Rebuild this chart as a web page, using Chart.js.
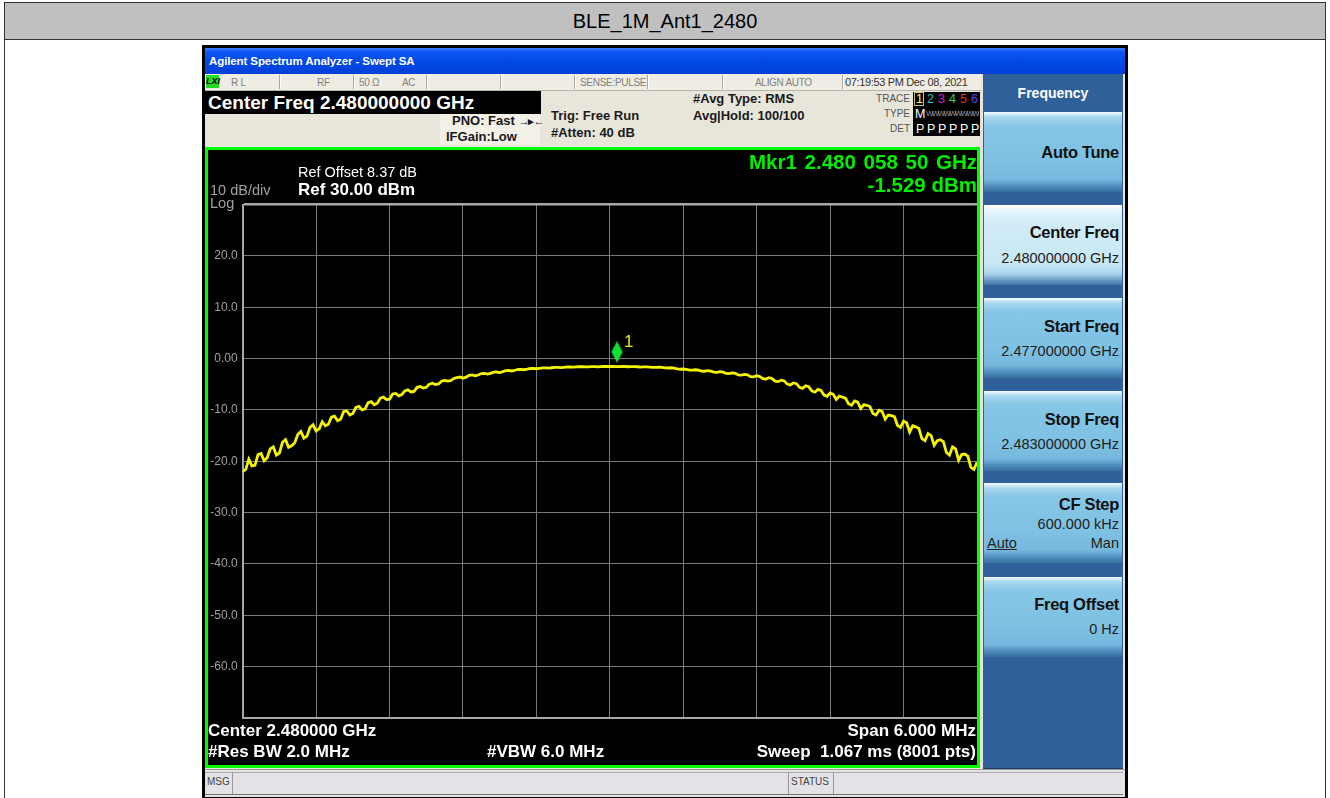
<!DOCTYPE html>
<html><head><meta charset="utf-8">
<script src="https://cdn.jsdelivr.net/npm/chart.js@4.4.1/dist/chart.umd.min.js"></script>
<style>
html,body{margin:0;padding:0;background:#fff;width:1330px;height:798px;overflow:hidden;font-family:"Liberation Sans",Arial,sans-serif;}
.a{position:absolute;white-space:nowrap;}
.st{color:#808080;font-size:10px;top:75px;height:15px;line-height:15px;letter-spacing:-0.3px;}
.sep{position:absolute;top:75px;width:1px;height:14px;background:#a8a8a8;border-right:1px solid #fff;}
.inf{font-weight:bold;font-size:13px;color:#1a1a1a;height:16px;line-height:16px;}
.btn{position:absolute;left:984px;width:138px;height:80px;
 background:linear-gradient(to bottom,#f4fbff 0px,#a8d8f0 5px,#86c6e6 14px,#7fc1e3 60%,#76b9de 84%,#4e8cbb 93%,#36709f 100%);}
.btn.sel{background:linear-gradient(to bottom,#ffffff 0px,#e6f5fc 6px,#d2ecf8 20%,#c8e7f6 75%,#a9d4ec 86%,#5f95bf 95%,#3f76a3 100%);}
.bt{position:absolute;right:3px;font-weight:bold;font-size:16.5px;color:#111;letter-spacing:-0.3px;}
.bv{position:absolute;right:3px;font-size:14.5px;color:#222;}
.pw{color:#fff;font-weight:bold;font-size:17px;height:20px;line-height:20px;}
.tr{position:absolute;font-size:12.5px;line-height:14px;}
</style></head><body>
<div class="a" style="left:4px;top:2px;width:1320px;height:800px;border-left:1px solid #333;border-right:1px solid #333;border-top:1px solid #333;"></div>
<div class="a" style="left:5px;top:3px;width:1320px;height:36px;background:#c0c0c0;border-bottom:1px solid #333;"></div>
<div class="a" style="left:5px;top:3px;width:1320px;height:36px;line-height:36px;text-align:center;font-size:20px;color:#000;">BLE_1M_Ant1_2480</div>

<div class="a" style="left:202px;top:45px;width:926px;height:753px;background:#000;"></div>
<div class="a" style="left:205px;top:48px;width:920px;height:26px;background:linear-gradient(to bottom,#3d7cff 0px,#0a55f2 4px,#0049e6 55%,#0040d6 100%);"></div>
<div class="a" style="left:209px;top:53px;height:16px;line-height:16px;color:#fff;font-weight:bold;font-size:11.5px;letter-spacing:-0.1px;">Agilent Spectrum Analyzer - Swept SA</div>
<div class="a" style="left:205px;top:74px;width:920px;height:722px;background:#e8e5db;"></div>

<!-- status row -->
<div class="a" style="left:205px;top:74px;width:776px;height:16px;background:#efece4;border-bottom:1px solid #b8b5ac;"></div>
<div class="a" style="left:206px;top:75px;width:13px;height:13px;background:#22dd22;font-size:9px;font-weight:bold;font-style:italic;line-height:13px;color:#000;text-align:center;">LXI</div>
<div class="a st" style="left:231px;">R L</div>
<div class="sep" style="left:279px;"></div>
<div class="a st" style="left:317px;">RF</div>
<div class="sep" style="left:353px;"></div>
<div class="a st" style="left:359px;">50 Ω</div>
<div class="a st" style="left:402px;">AC</div>
<div class="sep" style="left:426px;"></div>
<div class="sep" style="left:500px;"></div>
<div class="sep" style="left:574px;"></div>
<div class="a st" style="left:580px;">SENSE:PULSE</div>
<div class="sep" style="left:647px;"></div>
<div class="sep" style="left:722px;"></div>
<div class="a st" style="left:755px;">ALIGN AUTO</div>
<div class="sep" style="left:842px;"></div>
<div class="a st" style="left:845px;color:#333;font-size:11px;letter-spacing:-0.35px;">07:19:53 PM Dec 08, 2021</div>

<!-- info area -->
<div class="a" style="left:205px;top:91px;width:336px;height:23px;background:#000;"></div>
<div class="a" style="left:208px;top:91px;height:23px;line-height:23px;color:#fff;font-weight:bold;font-size:19px;">Center Freq 2.480000000 GHz</div>
<div class="a" style="left:440px;top:114px;width:100px;height:31px;background:#f3f0e8;"></div>
<div class="a inf" style="left:452px;top:113px;">PNO: Fast <span style="font-size:11px;letter-spacing:-1px;">→▸←</span></div>
<div class="a inf" style="left:446px;top:129px;">IFGain:Low</div>
<div class="a inf" style="left:551px;top:108px;">Trig: Free Run</div>
<div class="a inf" style="left:551px;top:125px;">#Atten: 40 dB</div>
<div class="a inf" style="left:693px;top:91px;">#Avg Type: RMS</div>
<div class="a inf" style="left:693px;top:108px;">Avg|Hold: 100/100</div>
<div class="a" style="left:860px;top:92px;width:50px;text-align:right;color:#555;font-size:10px;line-height:14px;">TRACE</div>
<div class="a" style="left:860px;top:107px;width:50px;text-align:right;color:#555;font-size:10px;line-height:14px;">TYPE</div>
<div class="a" style="left:860px;top:122px;width:50px;text-align:right;color:#555;font-size:10px;line-height:14px;">DET</div>
<div class="a" style="left:913px;top:92px;width:67px;height:44px;background:#000;"></div>
<div class="a" style="left:914px;top:92px;width:10px;height:14px;border:1px solid #c8c850;box-sizing:border-box;"></div>
<div class="tr" style="left:916px;top:92px;color:#ffff40;">1</div>
<div class="tr" style="left:927px;top:92px;color:#30c0d0;">2</div>
<div class="tr" style="left:938px;top:92px;color:#d020d0;">3</div>
<div class="tr" style="left:949px;top:92px;color:#30d050;">4</div>
<div class="tr" style="left:960px;top:92px;color:#e03030;">5</div>
<div class="tr" style="left:971px;top:92px;color:#6040e0;">6</div>
<div class="tr" style="left:915px;top:107px;color:#fff;">M</div>
<div class="a" style="left:926px;top:108px;width:53px;overflow:hidden;font-size:8px;line-height:12px;color:#999;letter-spacing:-1.8px;">WWWWWWWWWWWWWWW</div>
<div class="tr" style="left:916px;top:122px;color:#fff;">P</div>
<div class="tr" style="left:927px;top:122px;color:#fff;">P</div>
<div class="tr" style="left:938px;top:122px;color:#fff;">P</div>
<div class="tr" style="left:949px;top:122px;color:#fff;">P</div>
<div class="tr" style="left:960px;top:122px;color:#fff;">P</div>
<div class="tr" style="left:971px;top:122px;color:#fff;">P</div>

<!-- plot frame -->
<div class="a" style="left:205px;top:147px;width:769px;height:615px;border:3px solid #00ff00;background:#000;">
  <canvas id="c" width="769" height="615" style="position:absolute;left:0;top:0;"></canvas>
</div>
<div class="a" style="left:298px;top:164px;color:#fff;font-size:14.5px;line-height:17px;">Ref Offset 8.37 dB</div>
<div class="a" style="left:298px;top:180px;color:#fff;font-size:17px;font-weight:bold;line-height:19px;">Ref 30.00 dBm</div>
<div class="a" style="left:210px;top:182px;color:#a0a0a0;font-size:14.5px;line-height:17px;">10 dB/div</div>
<div class="a" style="left:210px;top:195px;color:#a0a0a0;font-size:14.5px;line-height:17px;">Log</div>
<div class="a" style="right:353px;top:151px;color:#00ee00;font-size:20.5px;font-weight:bold;line-height:22px;word-spacing:2px;">Mkr1 2.480 058 50 GHz</div>
<div class="a" style="right:353px;top:174px;color:#00ee00;font-size:20.5px;font-weight:bold;line-height:22px;">-1.529 dBm</div>
<div class="a pw" style="left:208px;top:721px;">Center 2.480000 GHz</div>
<div class="a pw" style="left:208px;top:742px;">#Res BW 2.0 MHz</div>
<div class="a pw" style="left:487px;top:742px;">#VBW 6.0 MHz</div>
<div class="a pw" style="right:354px;top:721px;">Span 6.000 MHz</div>
<div class="a pw" style="right:354px;top:742px;">Sweep&nbsp;&nbsp;1.067 ms (8001 pts)</div>

<!-- right panel -->
<div class="a" style="left:983px;top:74px;width:140px;height:694px;background:#30609a;border-bottom:1px solid #1c3c66;"></div>
<div class="a" style="left:983px;top:84px;width:140px;text-align:center;color:#fff;font-weight:bold;font-size:14px;line-height:18px;">Frequency</div>
<div class="btn" style="top:112px;"><div class="bt" style="top:31px;">Auto Tune</div></div>
<div class="btn sel" style="top:205px;"><div class="bt" style="top:18px;">Center Freq</div><div class="bv" style="top:45px;">2.480000000 GHz</div></div>
<div class="btn" style="top:298px;"><div class="bt" style="top:19px;">Start Freq</div><div class="bv" style="top:45px;">2.477000000 GHz</div></div>
<div class="btn" style="top:391px;"><div class="bt" style="top:19px;">Stop Freq</div><div class="bv" style="top:45px;">2.483000000 GHz</div></div>
<div class="btn" style="top:483px;"><div class="bt" style="top:12px;">CF Step</div><div class="bv" style="top:33px;">600.000 kHz</div>
  <div class="bv" style="top:52px;">Man</div><div style="position:absolute;left:3px;top:52px;font-size:14.5px;color:#222;text-decoration:underline;">Auto</div></div>
<div class="btn" style="top:577px;"><div class="bt" style="top:18px;">Freq Offset</div><div class="bv" style="top:44px;">0 Hz</div></div>

<!-- msg bar -->
<div class="a" style="left:205px;top:769px;width:920px;height:27px;background:#e4e2e6;border-top:1px solid #999;"></div>
<div class="a" style="left:205px;top:772px;width:918px;height:21px;border-top:1px solid #aaa;border-bottom:1px solid #777;"></div>
<div class="a" style="left:207px;top:775px;font-size:10px;line-height:14px;color:#444;">MSG</div>
<div class="a" style="left:232px;top:772px;width:1px;height:22px;background:#999;"></div>
<div class="a" style="left:788px;top:772px;width:1px;height:22px;background:#999;"></div>
<div class="a" style="left:791px;top:775px;font-size:10px;line-height:14px;color:#444;">STATUS</div>
<div class="a" style="left:833px;top:772px;width:1px;height:22px;background:#999;"></div>

<script>
// ---- data ----
const START_FREQ_GHZ = 2.477;
const STOP_FREQ_GHZ = 2.483;
// trace 1 levels (dBm), read across the sweep from start to stop frequency
const TRACE_DBM = [
 -22.0,-21.6,-19.6,-20.9,-20.8,-18.7,-18.5,-19.9,-19.3,-17.6,
 -17.2,-18.8,-18.4,-16.3,-15.8,-17.3,-17.0,-16.4,-14.8,-14.2,
 -15.5,-15.1,-13.4,-12.9,-14.1,-13.7,-12.3,-13.1,-12.8,-11.4,
 -11.2,-12.1,-11.8,-10.3,-10.2,-11.0,-10.7,-9.5,-9.3,-10.0,
 -9.8,-8.6,-8.4,-9.0,-8.7,-7.7,-7.5,-8.0,-7.9,-6.9,
 -6.8,-7.25,-7.0,-6.3,-6.1,-6.5,-6.4,-5.6,-5.45,-5.75,
 -5.6,-4.98,-4.8,-5.05,-4.95,-4.42,-4.25,-4.4,-4.3,-3.88,
 -3.72,-3.6,-3.82,-3.62,-3.27,-3.2,-3.37,-3.2,-2.92,-2.9,
 -3.02,-2.88,-2.66,-2.62,-2.72,-2.56,-2.37,-2.33,-2.42,-2.28,
 -2.13,-2.11,-2.18,-2.08,-1.94,-1.92,-1.98,-1.9,-1.81,-1.8,
 -1.86,-1.79,-1.71,-1.7,-1.75,-1.7,-1.64,-1.65,-1.68,-1.64,
 -1.59,-1.6,-1.63,-1.61,-1.57,-1.58,-1.62,-1.59,-1.55,-1.55,
 -1.53,-1.55,-1.57,-1.56,-1.52,-1.55,-1.60,-1.59,-1.56,-1.60,
 -1.66,-1.64,-1.61,-1.65,-1.71,-1.70,-1.66,-1.72,-1.82,-1.84,
 -1.79,-1.88,-2.03,-2.08,-2.04,-2.10,-2.25,-2.26,-2.18,-2.26,
 -2.44,-2.47,-2.37,-2.45,-2.65,-2.68,-2.56,-2.66,-2.90,-2.93,
 -2.80,-2.90,-3.20,-3.22,-3.08,-3.18,-3.52,-3.55,-3.35,-3.50,
 -3.90,-3.98,-3.72,-3.90,-4.40,-4.50,-4.20,-4.35,-4.98,-5.15,
 -4.75,-4.90,-5.60,-5.80,-5.30,-5.50,-6.30,-6.55,-6.00,-6.20,
 -7.10,-7.35,-6.70,-6.95,-7.95,-7.30,-7.50,-7.70,-8.80,-9.10,
 -8.25,-8.50,-9.70,-9.00,-9.10,-9.35,-10.70,-11.00,-10.05,-10.30,
 -11.80,-11.00,-11.10,-11.30,-13.00,-13.40,-12.20,-12.50,-14.30,-13.10,
 -13.30,-13.60,-15.60,-16.00,-14.60,-15.00,-16.90,-16.00,-15.80,-16.20,
 -18.30,-18.80,-17.20,-17.60,-19.80,-18.70,-18.60,-19.00,-21.20,-21.60,
 -20.20
];
const Y_TICKS = [-70,-60,-50,-40,-30,-20,-10,0,10,20,30];
const Y_TICK_LABELS = ['','-60.0','-50.0','-40.0','-30.0','-20.0','-10.0','0.00','10.0','20.0',''];
const X_GRID_GHZ = [2.4770,2.4776,2.4782,2.4788,2.4794,2.4800,2.4806,2.4812,2.4818,2.4824,2.4830];
const MARKER_FREQ_GHZ = 2.4800585;
const MARKER_DBM = -1.529;
const MARKER_LABEL = '1';

const stepGHz = (STOP_FREQ_GHZ - START_FREQ_GHZ) / (TRACE_DBM.length - 1);
const tracePts = TRACE_DBM.map((v, i) => ({x: START_FREQ_GHZ + i * stepGHz, y: v}));

const markerPlugin = {
  id: 'marker',
  afterDatasetsDraw(chart) {
    const {ctx, scales} = chart;
    const px = scales.x.getPixelForValue(MARKER_FREQ_GHZ);
    const py = scales.y.getPixelForValue(MARKER_DBM);
    ctx.save();
    const bot = py - 4, top = py - 25, mid = (bot + top) / 2;
    ctx.beginPath();
    ctx.moveTo(px, top); ctx.lineTo(px + 5.5, mid); ctx.lineTo(px, bot); ctx.lineTo(px - 5.5, mid); ctx.closePath();
    ctx.fillStyle = '#10e030'; ctx.fill();
    ctx.strokeStyle = '#0a9a20'; ctx.lineWidth = 0.8; ctx.stroke();
    ctx.fillStyle = '#e6e632';
    ctx.font = '17px "Liberation Sans", Arial';
    ctx.textBaseline = 'alphabetic';
    ctx.fillText(MARKER_LABEL, px + 7, top + 6);
    ctx.restore();
  }
};

new Chart(document.getElementById('c'), {
  type: 'line',
  data: { datasets: [{
    data: tracePts, borderColor: '#f4f400', borderWidth: 2.8, pointRadius: 0, tension: 0, fill: false
  }]},
  options: {
    responsive: false, animation: false, devicePixelRatio: 1,
    layout: { padding: { top: 54.5, bottom: 47, left: 0, right: 0 } },
    plugins: { legend: {display: false}, tooltip: {enabled: false} },
    scales: {
      x: {
        type: 'linear', min: START_FREQ_GHZ, max: STOP_FREQ_GHZ,
        afterBuildTicks: s => { s.ticks = X_GRID_GHZ.map(v => ({value: v})); },
        afterFit: s => { s.height = 0; },
        ticks: { display: false },
        grid: { drawTicks: false, color: c => (c.index === 0 ? '#a8a8a8' : '#7a7a7a'), lineWidth: c => (c.index === 0 ? 2 : 1) },
        border: { display: true, color: '#a8a8a8', width: 2 }
      },
      y: {
        type: 'linear', min: -70, max: 30,
        afterBuildTicks: s => { s.ticks = Y_TICKS.map(v => ({value: v})); },
        afterFit: s => { s.width = 34.7; },
        ticks: { color: '#a0a0a0', padding: 5, font: { family: '"Liberation Sans", Arial', size: 12 },
                 callback: (v, i) => Y_TICK_LABELS[i] },
        grid: { drawTicks: false, color: c => (c.tick && (c.tick.value === 30) ? '#a8a8a8' : '#7a7a7a'),
                lineWidth: c => (c.tick && (c.tick.value === 30) ? 2.5 : 1) },
        border: { display: true, color: '#a8a8a8', width: 2 }
      }
    }
  },
  plugins: [markerPlugin]
});
</script>
</body></html>
